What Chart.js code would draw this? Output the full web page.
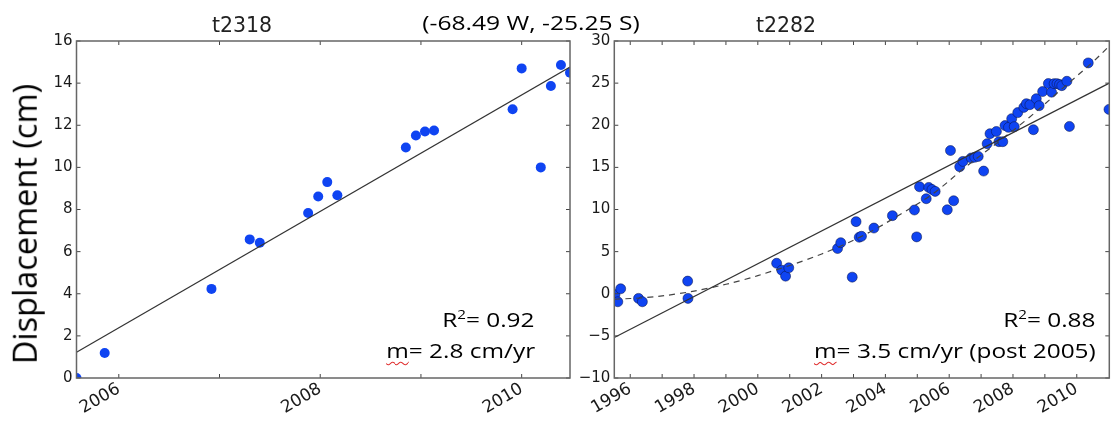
<!DOCTYPE html>
<html>
<head>
<meta charset="utf-8">
<script src="https://cdn.jsdelivr.net/npm/chart.js@4.4.1/dist/chart.umd.min.js"></script>
<style>
  body { margin: 0; background: #fff; }
  #wrap { position: relative; width: 1115px; height: 440px; background: #fff; overflow: hidden; }
  #wrap canvas { position: absolute; top: 0; }
  .txt { position: absolute; white-space: nowrap; line-height: 1; color: #000; }
  .note { font-family: "Open Sans", sans-serif; font-size: 20.5px; transform: scaleX(1.19); transform-origin: right center; }
  .sq { text-decoration: underline wavy #e03030; text-decoration-thickness: 1px; text-underline-offset: 3px; }
  .sup { font-size: 0.62em; position: relative; top: -0.6em; }
</style>
</head>
<body>
<div id="wrap">
  <canvas id="leftChart" width="575" height="440" style="left:0"></canvas>
  <canvas id="rightChart" width="540" height="440" style="left:575px"></canvas>

  <div class="txt" style="left:242px;top:15px;transform:translateX(-50%);font-family:'DejaVu Sans';font-size:20.5px;color:#222">t2318</div>
  <div class="txt" style="left:786px;top:15px;transform:translateX(-50%);font-family:'DejaVu Sans';font-size:20.5px;color:#222">t2282</div>
  <div class="txt" style="left:531px;top:12px;transform:translateX(-50%) scaleX(1.2);font-family:'Open Sans';font-size:20.5px">(-68.49 W, -25.25 S)</div>
  <div class="txt" style="left:25px;top:224px;transform:translate(-50%,-50%) rotate(-90deg);font-family:'Open Sans';font-size:32.5px">Displacement (cm)</div>

  <div class="txt note" style="right:580px;top:309px">R<span class="sup">2</span>= 0.92</div>
  <div class="txt note" style="right:580px;top:340px"><span class="sq">m</span>= 2.8 cm/yr</div>
  <div class="txt note" style="right:19px;top:309px">R<span class="sup">2</span>= 0.88</div>
  <div class="txt note" style="right:19px;top:340px"><span class="sq">m</span>= 3.5 cm/yr (post 2005)</div>
</div>
<script>
// --- datos t2318 ---
const leftYears = [2005.58, 2005.86, 2006.92, 2007.30, 2007.40, 2007.88, 2007.98, 2008.07, 2008.17,
    2008.85, 2008.95, 2009.04, 2009.13, 2009.91, 2010.00, 2010.19, 2010.29, 2010.39, 2010.48];
const leftDisp = [0.0, 1.19, 4.23, 6.58, 6.42, 7.83, 8.62, 9.30, 8.68,
    10.94, 11.51, 11.70, 11.75, 12.76, 14.70, 10.0, 13.86, 14.86, 14.49];
const leftFitYears = [2005.58, 2010.48];
const leftFitDisp = [1.22, 14.76];
const leftRange = [2005.58, 2010.48];
const leftTicksX = [2006, 2007, 2008, 2009, 2010];
const leftTicksY = [0, 2, 4, 6, 8, 10, 12, 14, 16];

// --- datos t2282 ---
const rightYears = [1995.52, 1995.61, 1995.70, 1996.26, 1996.38, 1997.80, 1997.81,
    2000.59, 2000.75, 2000.87, 2000.97, 2002.50, 2002.60, 2002.96, 2003.08, 2003.18, 2003.25, 2003.64,
    2004.22, 2004.91, 2004.98, 2005.07, 2005.28, 2005.36, 2005.46, 2005.56, 2005.94, 2006.04, 2006.14,
    2006.33, 2006.43, 2006.69, 2006.80, 2006.91, 2007.08, 2007.19, 2007.28, 2007.48, 2007.56, 2007.68,
    2007.75, 2007.86, 2007.96, 2008.04, 2008.15, 2008.34, 2008.42, 2008.53, 2008.64, 2008.73, 2008.82,
    2008.93, 2009.11, 2009.21, 2009.29, 2009.38, 2009.46, 2009.53, 2009.69, 2009.77, 2010.36, 2011.01];
const rightDisp = [-0.1, -0.95, 0.59, -0.55, -0.95, 1.50, -0.55,
    3.62, 2.80, 2.09, 3.08, 5.37, 6.06, 1.97, 8.56, 6.71, 6.82, 7.80,
    9.27, 9.94, 6.75, 12.70, 11.28, 12.62, 12.38, 12.15, 9.97, 17.00, 11.04,
    15.08, 15.71, 16.11, 16.20, 16.30, 14.56, 17.81, 19.00, 19.26, 18.05, 18.05,
    19.96, 19.75, 20.78, 19.83, 21.50, 22.12, 22.56, 22.44, 19.47, 23.15, 22.32,
    24.00, 24.95, 23.92, 24.94, 24.94, 24.84, 24.70, 25.22, 19.86, 27.40, 21.88];
const rightFitYears = [1995.5, 2011.02];
const rightFitDisp = [-5.2, 25.0];
const rightCurveYears = [1995.5, 1996.5, 1997.5, 1998.5, 1999.5, 2000.5, 2001.5, 2002.5, 2003.5,
    2004.5, 2005.5, 2006.5, 2007.5, 2008.5, 2009.5, 2010.5, 2011.02];
const rightCurveDisp = [-0.65, -0.45, 0.0, 0.7, 1.6, 2.75, 4.0, 5.5, 7.3,
    9.5, 11.9, 15.0, 17.9, 20.9, 24.2, 27.5, 29.4];
const rightRange = [1995.5, 2011.02];
const rightTicksX = [1996, 1997, 1998, 1999, 2000, 2001, 2002, 2003, 2004, 2005, 2006, 2007, 2008, 2009, 2010];
const rightTicksY = [-10, -5, 0, 5, 10, 15, 20, 25, 30];

function toPoints(xs, ys) {
    return xs.map((x, i) => ({ x: x, y: ys[i] }));
}

// marco y marcas hacia adentro, estilo matplotlib
const frameTicks = {
    id: 'frameTicks',
    afterDatasetsDraw(chart) {
        const { ctx, chartArea: a, scales: { x, y } } = chart;
        const len = 4;
        ctx.save();
        ctx.strokeStyle = '#444';
        ctx.lineWidth = 1;
        ctx.beginPath();
        x.ticks.forEach(t => {
            const px = x.getPixelForValue(t.value);
            ctx.moveTo(px, a.bottom); ctx.lineTo(px, a.bottom - len);
            ctx.moveTo(px, a.top); ctx.lineTo(px, a.top + len);
        });
        y.ticks.forEach(t => {
            const py = y.getPixelForValue(t.value);
            ctx.moveTo(a.left, py); ctx.lineTo(a.left + len, py);
            ctx.moveTo(a.right, py); ctx.lineTo(a.right - len, py);
        });
        ctx.stroke();
        ctx.strokeStyle = '#666';
        ctx.lineWidth = 1.5;
        ctx.strokeRect(a.left, a.top, a.right - a.left, a.bottom - a.top);
        ctx.restore();
    }
};

function getConfig(opt) {
    return {
        type: 'scatter',
        data: { datasets: opt.datasets },
        options: {
            responsive: false,
            animation: false,
            layout: { padding: { top: 41, right: opt.padRight, left: 0, bottom: 0 } },
            plugins: { legend: { display: false }, tooltip: { enabled: false } },
            scales: {
                x: {
                    type: 'linear',
                    min: opt.range[0],
                    max: opt.range[1],
                    grid: { display: false, drawTicks: false },
                    border: { display: false },
                    afterBuildTicks: s => { s.ticks = opt.ticksX.map(v => ({ value: v })); },
                    afterFit: s => { s.height = 62; },
                    ticks: {
                        autoSkip: false,
                        minRotation: 30,
                        maxRotation: 30,
                        padding: 1,
                        color: '#1a1a1a',
                        font: { family: 'DejaVu Sans', size: 17 },
                        callback: v => (v % 2 === 0 ? String(v) : '')
                    }
                },
                y: {
                    min: opt.ticksY[0],
                    max: opt.ticksY[opt.ticksY.length - 1],
                    grid: { display: false, drawTicks: false },
                    border: { display: false },
                    afterBuildTicks: s => { s.ticks = opt.ticksY.map(v => ({ value: v })); },
                    afterFit: s => { s.width = opt.yWidth; },
                    ticks: {
                        padding: 4,
                        color: '#1a1a1a',
                        font: { family: 'DejaVu Sans', size: 15 },
                        callback: v => (v < 0 ? '\u2212' + Math.abs(v) : String(v))
                    }
                }
            }
        },
        plugins: [frameTicks]
    };
}

const blue = '#0f44f2';

new Chart(document.getElementById('leftChart').getContext('2d'), getConfig({
    range: leftRange,
    ticksX: leftTicksX,
    ticksY: leftTicksY,
    yWidth: 76.5,
    padRight: 3,
    datasets: [
        {
            data: toPoints(leftFitYears, leftFitDisp),
            showLine: true, pointRadius: 0, borderColor: '#333', borderWidth: 1.2, clip: 0
        },
        {
            data: toPoints(leftYears, leftDisp),
            pointRadius: 5, backgroundColor: blue, borderColor: blue, borderWidth: 0, clip: 0
        }
    ]
}));

new Chart(document.getElementById('rightChart').getContext('2d'), getConfig({
    range: rightRange,
    ticksX: rightTicksX,
    ticksY: rightTicksY,
    yWidth: 39.3,
    padRight: 3.3,
    datasets: [
        {
            data: toPoints(rightFitYears, rightFitDisp),
            showLine: true, pointRadius: 0, borderColor: '#333', borderWidth: 1.2, clip: 0
        },
        {
            data: toPoints(rightCurveYears, rightCurveDisp),
            showLine: true, pointRadius: 0, borderColor: '#444', borderWidth: 1.2,
            borderDash: [6, 5], tension: 0.35, clip: 0
        },
        {
            data: toPoints(rightYears, rightDisp),
            pointRadius: 5, backgroundColor: blue, borderColor: 'rgba(10,20,70,0.75)', borderWidth: 0.7, clip: 0
        }
    ]
}));
</script>
</body>
</html>
